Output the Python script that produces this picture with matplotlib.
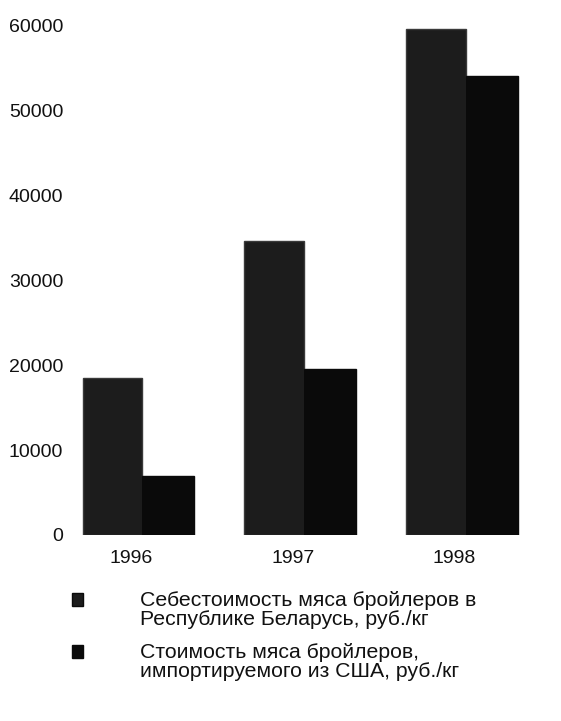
import numpy as np
import matplotlib.pyplot as plt
from matplotlib.patches import Rectangle

plt.rcParams['font.family'] = ['Liberation Sans', 'DejaVu Sans']

years = ['1996', '1997', '1998']
cost_by = [18500, 34600, 59500]     # себестоимость в РБ
cost_usa = [7000, 19500, 54000]     # стоимость импорта из США
labels = ['Себестоимость мяса бройлеров в\nРеспублике Беларусь, руб./кг',
          'Стоимость мяса бройлеров,\nимпортируемого из США, руб./кг']

fig = plt.figure(figsize=(5.61, 7.21), dpi=100)
ax = fig.add_axes([0.13, 0.258, 0.83, 0.707])

x = np.arange(len(years))
wl = 0.37
wd = 0.32
ax.bar(x, cost_by, -wl, align='edge', color='#1c1c1c', edgecolor='#3a3a3a', linewidth=1)
ax.bar(x, cost_usa, wd, align='edge', color='#0a0a0a', edgecolor='#0a0a0a', linewidth=1)

ax.set_xlim(-0.43, 2.45)
ax.set_ylim(0, 60000)
ax.set_yticks(range(0, 60001, 10000))
ax.set_xticks(x - 0.07)
ax.set_xticklabels(years)
for s in ax.spines.values():
  s.set_visible(False)
ax.tick_params(axis='both', length=0, labelsize=14, colors='#111111')
ax.tick_params(axis='x', pad=11)
ax.tick_params(axis='y', pad=7)

# legend drawn by hand: marker beside first line of each label
ty = [600, 652]
for i in range(2):
  yf = 1 - ty[i]/721.0
  fig.add_artist(Rectangle((72/561.0, yf - 6/721.0), 11/561.0, 13/721.0,
                           transform=fig.transFigure,
                           facecolor='#1c1c1c' if i == 0 else '#0a0a0a',
                           edgecolor='#0a0a0a'))
  fig.text(140/561.0, yf + 9/721.0, labels[i], fontsize=15.3, va='top', ha='left',
           color='#111111', linespacing=1.02)

fig.savefig('out.png', dpi=100)
